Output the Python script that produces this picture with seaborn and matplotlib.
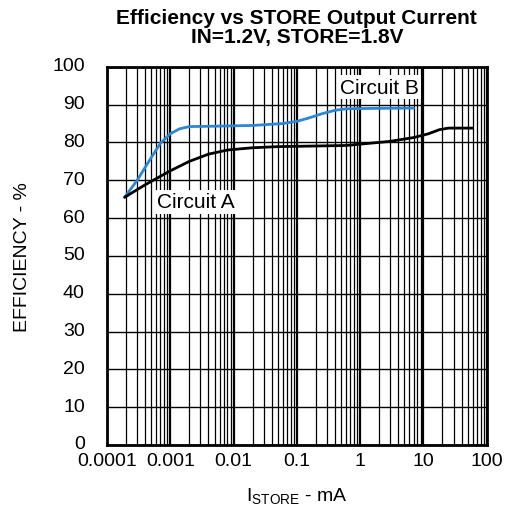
import matplotlib
matplotlib.use("Agg")
import matplotlib.pyplot as plt
import matplotlib.transforms as mtransforms
import seaborn as sns
import pandas as pd
from matplotlib.ticker import LogLocator, FixedLocator, NullFormatter

# Datos
corriente_b = [0.00019, 0.0003, 0.0005, 0.0007, 0.001, 0.0014, 0.002, 0.005, 0.02, 0.06,
               0.1, 0.15, 0.25, 0.4, 0.6, 1.5, 7.0]
eficiencia_b = [65.5, 70.0, 76.0, 79.8, 82.3, 83.6, 84.2, 84.3, 84.5, 85.0,
                85.6, 86.4, 87.6, 88.5, 88.9, 89.0, 89.1]

corriente_a = [0.00019, 0.0004, 0.001, 0.002, 0.004, 0.008, 0.02, 0.05, 0.6, 3.0, 7.0,
               12.0, 18.0, 25.0, 60.0]
eficiencia_a = [65.5, 68.8, 72.5, 75.0, 76.9, 78.0, 78.6, 78.9, 79.2, 80.3, 81.3,
               82.3, 83.4, 83.8, 83.8]

ticks_x = [0.0001, 0.001, 0.01, 0.1, 1, 10, 100]
etiquetas_x = ["0.0001", "0.001", "0.01", "0.1", "1", "10", "100"]
ticks_y = list(range(0, 101, 10))

df = pd.concat([
    pd.DataFrame({"corriente": corriente_b, "eficiencia": eficiencia_b, "circuito": "B"}),
    pd.DataFrame({"corriente": corriente_a, "eficiencia": eficiencia_a, "circuito": "A"}),
])

sns.set_style("white")
plt.rcParams["font.family"] = ["Liberation Sans", "DejaVu Sans"]
plt.rcParams["text.color"] = "black"
plt.rcParams["axes.labelcolor"] = "black"
plt.rcParams["xtick.color"] = "black"
plt.rcParams["ytick.color"] = "black"

fig = plt.figure(figsize=(5.07, 5.10), dpi=100)
ax = fig.add_axes([0.211, 0.1255, 0.749, 0.7415])

sns.lineplot(data=df, x="corriente", y="eficiencia", hue="circuito",
             palette={"B": "#2b87d3", "A": "black"}, linewidth=2,
             legend=False, ax=ax, sort=False, zorder=3)

ax.set_xscale("log")
ax.set_xlim(0.0001, 100)
ax.set_ylim(0, 100)
ax.xaxis.set_major_locator(FixedLocator(ticks_x))
ax.set_xticks(ticks_x)
ax.set_xticklabels(etiquetas_x)
ax.xaxis.set_minor_locator(LogLocator(base=10, subs=range(2, 10), numticks=20))
ax.xaxis.set_minor_formatter(NullFormatter())
ax.set_yticks(ticks_y)

ax.grid(which="major", axis="x", color="black", linewidth=1.6)
ax.grid(which="minor", axis="x", color="black", linewidth=0.9)
ax.grid(which="major", axis="y", color="black", linewidth=1.0)
ax.tick_params(axis="both", which="both", length=0, labelsize=14)
ax.tick_params(axis="x", pad=5)
ax.tick_params(axis="y", pad=16)
# subir un poco las etiquetas del eje y
desplaza = mtransforms.ScaledTranslation(0, 3 / 100, fig.dpi_scale_trans)
for lbl in ax.get_yticklabels():
    lbl.set_transform(lbl.get_transform() + desplaza)
for s in ax.spines.values():
    s.set_linewidth(2)
    s.set_color("black")

ax.text(2.0, 94.6, "Circuit B", fontsize=15, ha="center", va="center",
        bbox=dict(facecolor="white", edgecolor="none", pad=2), zorder=4)
ax.text(0.0025, 64.3, "Circuit A", fontsize=15, ha="center", va="center",
        bbox=dict(facecolor="white", edgecolor="none", pad=2), zorder=4)

ax.set_title("Efficiency vs STORE Output Current\nIN=1.2V, STORE=1.8V",
             fontsize=15, fontweight="bold", pad=18, linespacing=1.0)
ax.set_xlabel("I$_{\\mathregular{STORE}}$ - mA", fontsize=14, labelpad=12)
ax.set_ylabel("EFFICIENCY - %", fontsize=14, labelpad=15)

fig.savefig("out.png", dpi=100)
